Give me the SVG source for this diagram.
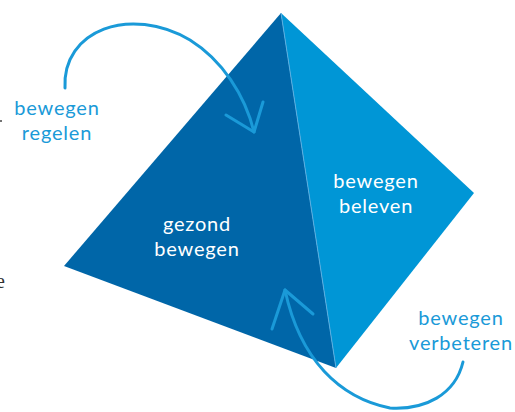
<svg xmlns="http://www.w3.org/2000/svg" width="515" height="412" viewBox="0 0 515 412">
<style>
.lbl{font-family:Lato,"Open Sans","Liberation Sans",sans-serif;font-size:20px;letter-spacing:0.8px;text-anchor:middle}
.out{fill:#1a9ad8}
.in{fill:#ffffff}
.arr{fill:none;stroke:#1a9ad8;stroke-width:3;stroke-linecap:round;stroke-linejoin:round}
</style>
<rect width="515" height="412" fill="#ffffff"/>
<g id="pyramid">
<polygon points="281,13 64,266 336,368" fill="#0066a8"/>
<polygon points="281,13 474,193 336,368" fill="#0096d6"/>
<line x1="281" y1="13" x2="336" y2="368" stroke="#5aaee0" stroke-width="1"/>
</g>
<g id="node-gezond">
<text class="lbl in" x="197" y="231">gezond</text>
<text class="lbl in" x="197" y="256">bewegen</text>
</g>
<g id="node-beleven">
<text class="lbl in" x="376" y="188">bewegen</text>
<text class="lbl in" x="376" y="213">beleven</text>
</g>
<g id="node-regelen">
<text class="lbl out" x="57" y="115">bewegen</text>
<text class="lbl out" x="57" y="140">regelen</text>
</g>
<g id="node-verbeteren">
<text class="lbl out" x="461" y="325">bewegen</text>
<text class="lbl out" x="461" y="350">verbeteren</text>
</g>
<g id="connectors">
<path class="arr" d="M65,88 C62,30 130,5 190,40 C222,60 245,95 254,132"/>
<polyline class="arr" points="226,115 254,132 263,102"/>
<path class="arr" d="M463,362 C455,395 425,410 390,408 C340,398 300,360 285,290"/>
<polyline class="arr" points="272,329 285,290 313,314"/>
</g>
<g id="stray">
<circle cx="1" cy="121" r="1" fill="#444444"/>
<text x="-4" y="288" font-family="Liberation Serif,serif" font-size="20" fill="#333333">e</text>
</g>
</svg>
